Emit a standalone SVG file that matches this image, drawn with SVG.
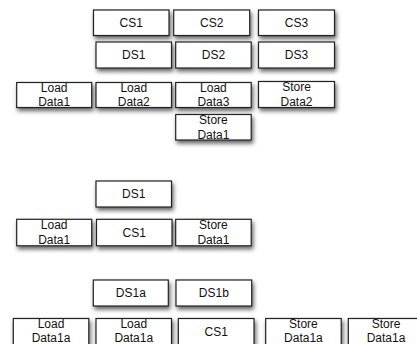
<svg xmlns="http://www.w3.org/2000/svg" width="417" height="344" viewBox="0 0 417 344">
<defs>
<filter id="sh" x="-20%" y="-30%" width="140%" height="170%">
<feDropShadow dx="1.5" dy="3" stdDeviation="2" flood-color="#000" flood-opacity="0.6"/>
</filter>
</defs>
<style>
.b{fill:#fff;stroke:#222;stroke-width:1.2;filter:url(#sh)}
text{font-family:"Liberation Sans",Arial,sans-serif;font-size:12px;fill:#111;text-anchor:middle}
</style>
<rect width="417" height="344" fill="#fff"/>
<g id="connectors"></g>
<!-- Diagram 1 -->
<g id="cs1"><rect class="b" x="93.5" y="10" width="75.5" height="25.5"/><text x="131.25" y="27">CS1</text></g>
<g id="cs2"><rect class="b" x="173.7" y="10" width="76" height="25.5"/><text x="211.7" y="27">CS2</text></g>
<g id="cs3"><rect class="b" x="258.5" y="10" width="76" height="25.5"/><text x="296.5" y="27">CS3</text></g>
<g id="ds1"><rect class="b" x="96" y="42" width="75.5" height="26"/><text x="133.75" y="59">DS1</text></g>
<g id="ds2"><rect class="b" x="175.7" y="42" width="75.5" height="26"/><text x="213.45" y="59">DS2</text></g>
<g id="ds3"><rect class="b" x="258.5" y="42" width="76" height="26"/><text x="296.5" y="59">DS3</text></g>
<g id="ld1"><rect class="b" x="16.7" y="82.5" width="75" height="25"/><text x="54.2" y="92">Load</text><text x="54.2" y="106">Data1</text></g>
<g id="ld2"><rect class="b" x="96" y="82.5" width="75.5" height="25"/><text x="133.75" y="92">Load</text><text x="133.75" y="106">Data2</text></g>
<g id="ld3"><rect class="b" x="175.7" y="82.5" width="75.5" height="25"/><text x="213.45" y="92">Load</text><text x="213.45" y="106">Data3</text></g>
<g id="sd2"><rect class="b" x="258.5" y="81.5" width="76" height="26"/><text x="296.5" y="91">Store</text><text x="296.5" y="106">Data2</text></g>
<g id="sd1"><rect class="b" x="175.7" y="114.5" width="75.5" height="25.5"/><text x="213.45" y="124">Store</text><text x="213.45" y="139">Data1</text></g>
<!-- Diagram 2 -->
<g id="d2-ds1"><rect class="b" x="96" y="181" width="75.5" height="26"/><text x="133.75" y="198">DS1</text></g>
<g id="d2-ld1"><rect class="b" x="16.7" y="219.3" width="75" height="26.5"/><text x="54.2" y="229">Load</text><text x="54.2" y="244">Data1</text></g>
<g id="d2-cs1"><rect class="b" x="96.5" y="219.3" width="75.5" height="26.5"/><text x="134.25" y="237">CS1</text></g>
<g id="d2-sd1"><rect class="b" x="175.7" y="219.3" width="75.5" height="26.5"/><text x="213.45" y="229">Store</text><text x="213.45" y="244">Data1</text></g>
<!-- Diagram 3 -->
<g id="d3-ds1a"><rect class="b" x="93.3" y="280" width="75" height="26"/><text x="130.8" y="297">DS1a</text></g>
<g id="d3-ds1b"><rect class="b" x="176" y="280" width="75.7" height="26"/><text x="213.85" y="297">DS1b</text></g>
<g id="d3-ld1"><rect class="b" x="13.3" y="318.5" width="75.5" height="27"/><text x="51.05" y="328">Load</text><text x="51.05" y="341.5">Data1a</text></g>
<g id="d3-ld2"><rect class="b" x="96" y="318.5" width="75.5" height="27"/><text x="133.75" y="328">Load</text><text x="133.75" y="341.5">Data1a</text></g>
<g id="d3-cs1"><rect class="b" x="178.3" y="318.5" width="75.7" height="27"/><text x="216.15" y="335.5">CS1</text></g>
<g id="d3-sd1"><rect class="b" x="265.7" y="318.5" width="75.5" height="27"/><text x="303.45" y="328">Store</text><text x="303.45" y="341.5">Data1a</text></g>
<g id="d3-sd2"><rect class="b" x="348.3" y="318.5" width="75.5" height="27"/><text x="386.05" y="328">Store</text><text x="386.05" y="341.5">Data1a</text></g>
</svg>
